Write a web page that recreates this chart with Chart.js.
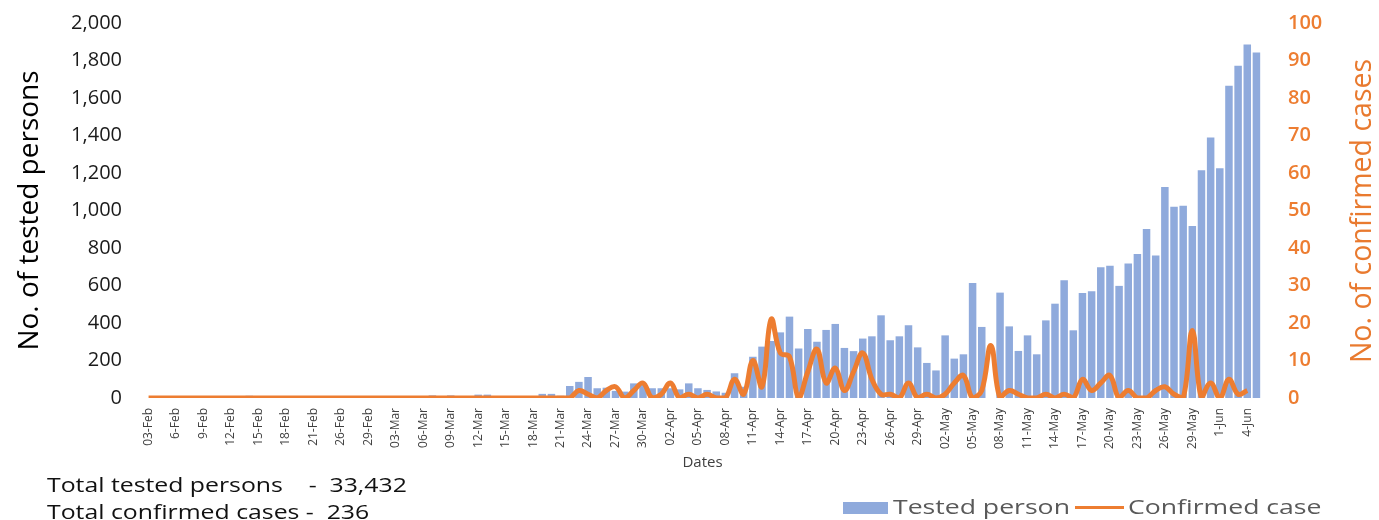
<!DOCTYPE html>
<html>
<head>
<meta charset="utf-8">
<script src="https://cdn.jsdelivr.net/npm/chart.js@4.4.1/dist/chart.umd.min.js"></script>
<style>
  html, body { margin: 0; padding: 0; background: #fff; }
  #wrap { position: relative; width: 1379px; height: 520px; overflow: hidden; }
  #chart { position: absolute; left: 0; top: 0; }
  .note { position: absolute; left: 47px; font-family: 'Open Sans', sans-serif; font-size: 20px; line-height: 24px;
          color: #111; white-space: pre; transform-origin: left center; transform: scaleX(1.24); }
  .legend { position: absolute; top: 495px; height: 24px; font-family: 'Open Sans', sans-serif; font-size: 20px;
            line-height: 24px; color: #595959; white-space: pre; transform-origin: left center; transform: scaleX(1.33); }
  .swatch { position: absolute; }
  #rightTitle { position: absolute; left: 1160px; top: 194px; width: 400px; height: 34px; line-height: 34px;
                text-align: center; font-family: 'Open Sans', sans-serif; font-size: 28.5px; color: #E97A2F;
                white-space: nowrap; transform: rotate(-90deg); }
</style>
</head>
<body>
<div id="wrap">
  <canvas id="chart" width="1379" height="520"></canvas>
  <div id="rightTitle">No. of confirmed cases</div>
  <div class="note" style="top: 473px;">Total tested persons    -  33,432</div>
  <div class="note" style="top: 500px;">Total confirmed cases -  236</div>
  <div class="swatch" style="left: 843px; top: 502px; width: 45px; height: 12px; background: #8FAADC;"></div>
  <div class="legend" style="left: 893px;">Tested person</div>
  <div class="swatch" style="left: 1075px; top: 506px; width: 49px; height: 3px; background: #ED7D31;"></div>
  <div class="legend" style="left: 1128px;">Confirmed case</div>
</div>
<script>
// every third day is labelled on the x axis
const tickLabels = ['03-Feb', '6-Feb', '9-Feb', '12-Feb', '15-Feb', '18-Feb', '21-Feb', '26-Feb', '29-Feb',
  '03-Mar', '06-Mar', '09-Mar', '12-Mar', '15-Mar', '18-Mar', '21-Mar', '24-Mar', '27-Mar', '30-Mar',
  '02-Apr', '05-Apr', '08-Apr', '11-Apr', '14-Apr', '17-Apr', '20-Apr', '23-Apr', '26-Apr', '29-Apr',
  '02-May', '05-May', '08-May', '11-May', '14-May', '17-May', '20-May', '23-May', '26-May', '29-May',
  '1-Jun', '4-Jun'];

const tested = [
  0, 0, 0, 0, 0, 0, 0, 0, 0, 0,
  0, 12, 0, 0, 0, 0, 0, 0, 0, 0,
  0, 0, 0, 0, 0, 0, 0, 0, 0, 0,
  0, 14, 0, 14, 0, 0, 18, 18, 0, 0,
  0, 0, 8, 22, 22, 12, 64, 86, 112, 52,
  55, 38, 34, 78, 78, 52, 52, 52, 46, 78,
  52, 43, 35, 28, 132, 60, 220, 274, 304, 350,
  434, 264, 368, 300, 363, 395, 267, 250, 317, 329,
  441, 308, 329, 388, 270, 187, 147, 334, 210, 233,
  613, 379, 0, 562, 382, 251, 334, 233, 414, 503,
  628, 361, 560, 570, 698, 705, 598, 718, 768, 902,
  760, 1125, 1020, 1025, 918, 1215, 1390, 1225, 1665, 1772,
  1885, 1843
];

const confirmed = [
  0, 0, 0, 0, 0, 0, 0, 0, 0, 0,
  0, 0, 0, 0, 0, 0, 0, 0, 0, 0,
  0, 0, 0, 0, 0, 0, 0, 0, 0, 0,
  0, 0, 0, 0, 0, 0, 0, 0, 0, 0,
  0, 0, 0, 0, 0, 0, 0, 2, 1, 0,
  2, 3, 0, 2, 4, 0, 1, 4, 0, 1,
  0, 1, 0, 0, 5, 1, 10, 3, 21, 12,
  11, 0, 7, 13, 4, 8, 2, 7, 12, 5,
  1, 1, 0, 4, 0, 1, 0, 1, 4, 6,
  0, 2, 14, 0, 2, 1, 0, 0, 1, 0,
  1, 0, 5, 2, 4, 6, 0, 2, 0, 0,
  2, 3, 1, 0, 18, 0, 4, 0, 5, 1,
  2, null
];

// one category per day; only the labelled days carry text
const categories = [];
tickLabels.forEach((t, i) => {
  categories.push(t);
  if (i < tickLabels.length - 1) categories.push('', '');
});
categories.push('');

const ctx = document.getElementById('chart').getContext('2d');
new Chart(ctx, {
  data: {
    labels: categories,
    datasets: [
      {
        type: 'line',
        label: 'Confirmed case',
        data: confirmed,
        yAxisID: 'y1',
        borderColor: '#ED7D31',
        borderWidth: 5,
        tension: 0.4,
        pointRadius: 0,
        order: 0
      },
      {
        type: 'bar',
        label: 'Tested person',
        data: tested,
        yAxisID: 'y',
        backgroundColor: '#8FAADC',
        barPercentage: 0.82,
        categoryPercentage: 1,
        order: 1
      }
    ]
  },
  options: {
    responsive: false,
    animation: false,
    layout: { padding: { top: 23, bottom: 47, left: 0, right: 0 } },
    plugins: {
      legend: { display: false },
      tooltip: { enabled: false }
    },
    scales: {
      x: {
        grid: { display: false, tickLength: 8 },
        border: { display: false },
        ticks: {
          autoSkip: false, minRotation: 90, maxRotation: 90, padding: 2,
          color: '#404040', font: { family: 'Open Sans', size: 12 }
        },
        title: {
          display: true, text: 'Dates', color: '#404040',
          font: { family: 'Open Sans', size: 15 }, padding: { top: 0, bottom: 1 }
        },
        afterFit: s => { s.height = 75; }
      },
      y: {
        position: 'left', min: 0, max: 2000,
        grid: { display: false, tickLength: 22 },
        border: { display: false },
        ticks: { stepSize: 200, padding: 0, color: '#1a1a1a', font: { family: 'Open Sans', size: 20 } },
        title: {
          display: true, text: 'No. of tested persons', color: '#000',
          font: { family: 'Open Sans', size: 28 }, padding: { top: 13, bottom: 0 }
        },
        afterFit: s => { s.width = 144; }
      },
      y1: {
        position: 'right', min: 0, max: 100,
        grid: { display: false, tickLength: 27 },
        border: { display: false },
        ticks: { stepSize: 10, padding: 0, color: '#ED7D31', font: { family: 'Open Sans', size: 20, weight: '600' } },
        // the title reads bottom-to-top like the left one, so it is set as a rotated div above
        title: { display: false },
        afterFit: s => { s.width = 118; }
      }
    }
  }
});
</script>
</body>
</html>
